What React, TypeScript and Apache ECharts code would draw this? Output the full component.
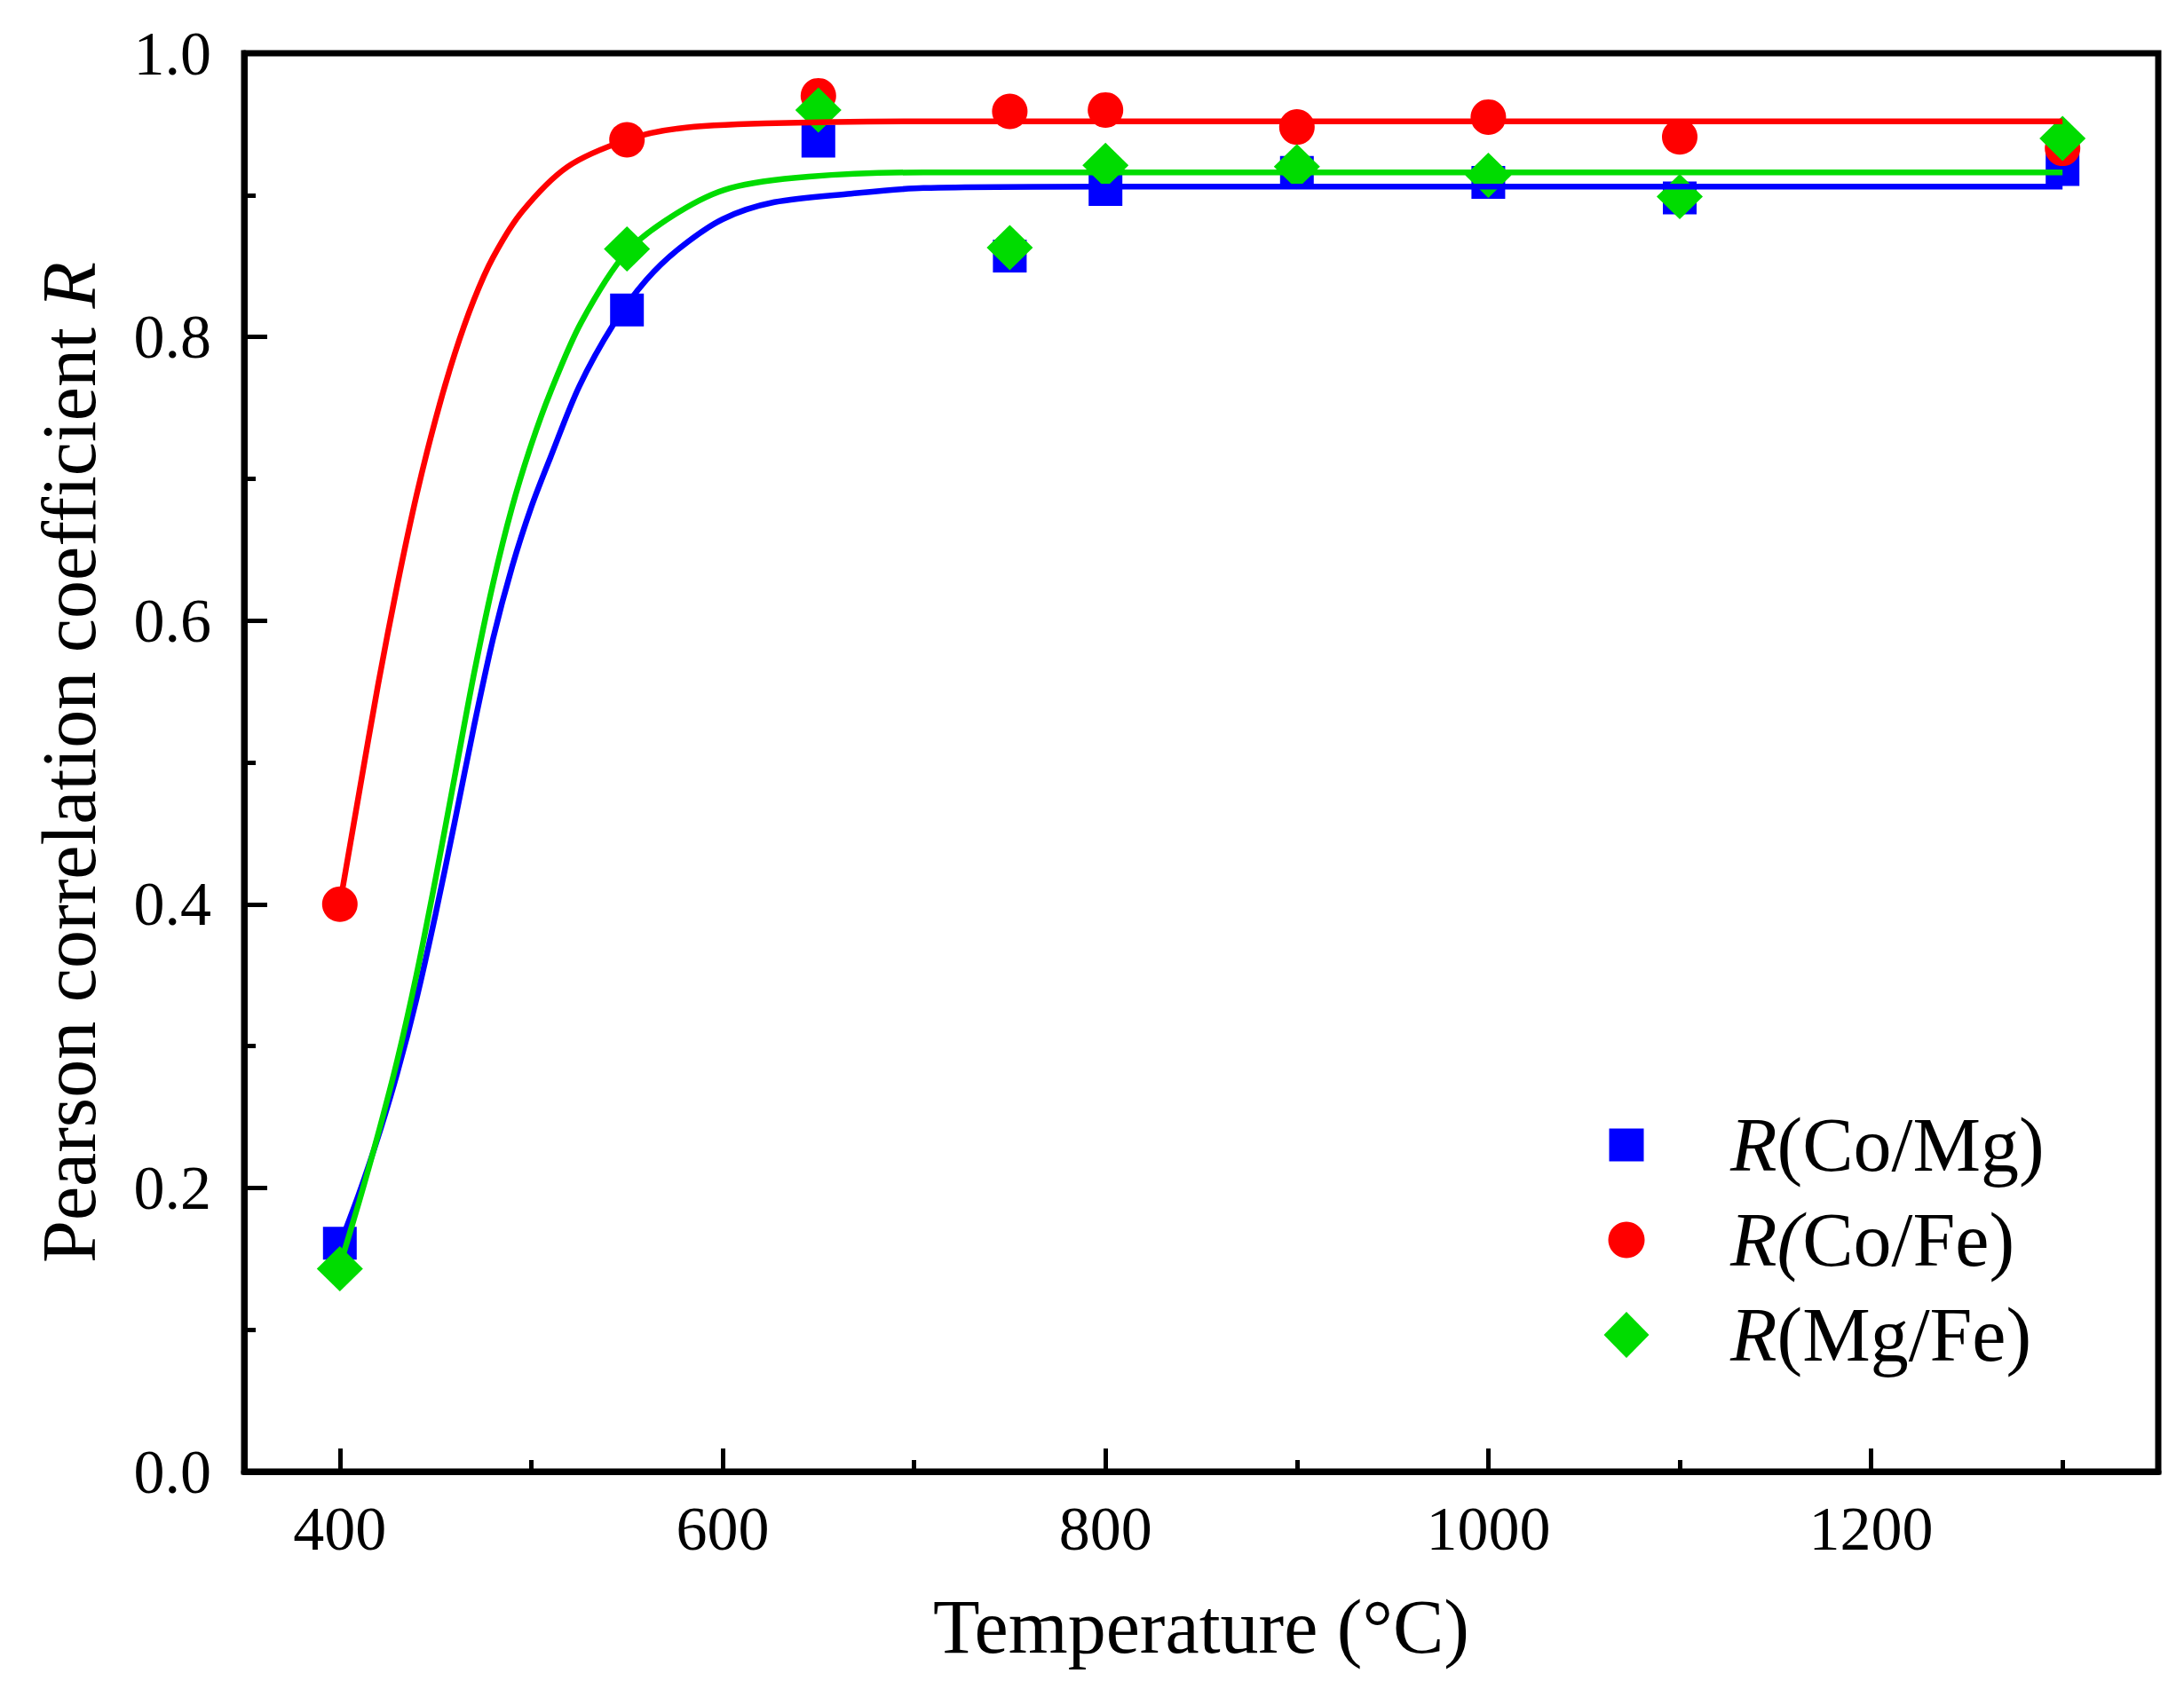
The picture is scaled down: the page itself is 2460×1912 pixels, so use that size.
import React, { useEffect, useRef } from "react";
import * as echarts from "echarts";

// Measured points
const temperatures = [400, 550, 650, 750, 800, 900, 1000, 1100, 1300];
const rCoMg = [0.161, 0.819, 0.938, 0.857, 0.904, 0.916, 0.909, 0.898, 0.918];
const rCoFe = [0.4, 0.939, 0.97, 0.959, 0.96, 0.948, 0.955, 0.941, 0.933];
const rMgFe = [0.143, 0.862, 0.96, 0.863, 0.921, 0.92, 0.914, 0.899, 0.94];

// Fitted curves
const fitCoMgX = [400, 410, 420, 430, 440, 450, 460, 470, 480, 490, 500, 510, 525, 543, 560, 577, 600, 627, 667, 705, 800, 1300];
const fitCoMgY = [0.16, 0.196, 0.236, 0.281, 0.333, 0.393, 0.458, 0.525, 0.587, 0.638, 0.68, 0.715, 0.765, 0.809, 0.84, 0.862, 0.883, 0.895, 0.901, 0.905, 0.906, 0.906];
const fitCoFeX = [400, 410, 420, 430, 440, 450, 460, 470, 480, 495, 519, 550, 577, 622, 705, 1300];
const fitCoFeY = [0.4, 0.478, 0.555, 0.625, 0.688, 0.742, 0.788, 0.826, 0.856, 0.888, 0.92, 0.939, 0.947, 0.9505, 0.952, 0.952];
const fitMgFeX = [400, 410, 420, 430, 440, 450, 460, 470, 480, 490, 500, 510, 526, 550, 577, 604, 645, 705, 1300];
const fitMgFeY = [0.145, 0.19, 0.238, 0.29, 0.35, 0.418, 0.49, 0.562, 0.626, 0.68, 0.724, 0.761, 0.81, 0.86, 0.888, 0.905, 0.913, 0.916, 0.916];

// Axis ticks
const xMajorTicks = [400, 600, 800, 1000, 1200];
const xMinorTicks = [500, 700, 900, 1100, 1300];

const seriesNames = ["R(Co/Mg)", "R(Co/Fe)", "R(Mg/Fe)"];
const legendLabels = ["{s| }{i|R}{n|(Co/Mg)}", "{s| }{i|R(}{n|Co/Fe)}", "{s| }{i|R}{n|(Mg/Fe)}"];

const BLUE = "#0000FF";
const RED = "#FF0000";
const GREEN = "#00DC00";
const FONT = "Liberation Serif";

const zip = (xs: number[], ys: number[]) => xs.map((x, i) => [x, ys[i]]);

export default function App() {
  const ref = useRef<HTMLDivElement>(null);

  useEffect(() => {
    if (!ref.current) return;
    const chart = echarts.init(ref.current, null, { renderer: "svg" });

    const richLegend = (spacer: number) => ({
      s: { width: spacer, fontSize: 86, lineHeight: 90 },
      i: { fontFamily: FONT, fontStyle: "italic", fontSize: 86, lineHeight: 90, color: "#000" },
      n: { fontFamily: FONT, fontSize: 86, lineHeight: 90, color: "#000" },
    });

    const legendDefs = [
      { name: seriesNames[0], icon: "rect", w: 39, h: 37, cx: 1832, cy: 1290 },
      { name: seriesNames[1], icon: "circle", w: 41, h: 41, cx: 1832, cy: 1397 },
      { name: seriesNames[2], icon: "diamond", w: 51, h: 52, cx: 1832, cy: 1504 },
    ];

    const legends = legendDefs.map((d, k) => ({
      show: true,
      selectedMode: false,
      orient: "vertical",
      left: d.cx - d.w / 2,
      top: d.cy - 45,
      padding: 0,
      itemWidth: d.w,
      itemHeight: d.h,
      icon: d.icon,
      itemStyle: { opacity: 1 },
      data: [d.name],
      formatter: () => legendLabels[k],
      textStyle: {
        fontFamily: FONT,
        fontSize: 86,
        lineHeight: 90,
        color: "#000",
        rich: richLegend(1949 - (d.cx - d.w / 2 + d.w + 5)),
      },
    }));

    const axisFont = { fontFamily: FONT, fontSize: 70, color: "#000" };

    const fitLine = (name: string, color: string, xs: number[], ys: number[]) => ({
      name,
      type: "line",
      showSymbol: false,
      smooth: 0.3,
      lineStyle: { color, width: 6.5 },
      z: 5,
      silent: true,
      data: zip(xs, ys),
    });

    chart.setOption({
      animation: false,
      backgroundColor: "#fff",
      grid: {
        left: 275,
        top: 60,
        width: 2156,
        height: 1598,
        show: true,
        borderColor: "#000",
        borderWidth: 7,
        backgroundColor: "transparent",
      },
      legend: legends,
      xAxis: [
        {
          type: "value",
          min: 350,
          max: 1350,
          position: "bottom",
          name: "Temperature (°C)",
          nameLocation: "middle",
          nameGap: 130,
          nameTextStyle: { fontFamily: FONT, fontSize: 86, lineHeight: 90, color: "#000" },
          axisLine: { show: true, lineStyle: { color: "#000", width: 7 } },
          axisTick: {
            show: true,
            inside: true,
            length: 26,
            customValues: xMajorTicks,
            lineStyle: { color: "#000", width: 5 },
          },
          axisLabel: {
            ...axisFont,
            margin: 29,
            lineHeight: 70,
            customValues: xMajorTicks,
            formatter: (v: number) => String(v),
          },
          splitLine: { show: false },
        },
        {
          type: "value",
          min: 350,
          max: 1350,
          position: "bottom",
          axisLine: { show: false },
          axisTick: {
            show: true,
            inside: true,
            length: 13,
            customValues: xMinorTicks,
            lineStyle: { color: "#000", width: 5 },
          },
          axisLabel: { show: false },
          splitLine: { show: false },
        },
      ],
      yAxis: {
        type: "value",
        min: 0,
        max: 1,
        interval: 0.2,
        name: "{n|Pearson correlation coefficient }{i|R}",
        nameLocation: "middle",
        nameGap: 152,
        nameTextStyle: {
          fontFamily: FONT,
          fontSize: 86,
          lineHeight: 90,
          color: "#000",
          rich: {
            n: { fontFamily: FONT, fontSize: 86, lineHeight: 90, color: "#000" },
            i: { fontFamily: FONT, fontStyle: "italic", fontSize: 86, lineHeight: 90, color: "#000" },
          },
        },
        axisLine: { show: true, lineStyle: { color: "#000", width: 7 } },
        axisTick: { show: true, inside: true, length: 26, lineStyle: { color: "#000", width: 5 } },
        minorTick: { show: true, splitNumber: 2, length: 13, lineStyle: { color: "#000", width: 5 } },
        axisLabel: { ...axisFont, margin: 37, formatter: (v: number) => v.toFixed(1) },
        splitLine: { show: false },
        minorSplitLine: { show: false },
      },
      series: [
        {
          name: seriesNames[0],
          type: "scatter",
          symbol: "rect",
          symbolSize: [38, 37],
          itemStyle: { color: BLUE, opacity: 1 },
          z: 2,
          data: zip(temperatures, rCoMg),
        },
        {
          name: seriesNames[1],
          type: "scatter",
          symbol: "circle",
          symbolSize: 40,
          itemStyle: { color: RED, opacity: 1 },
          z: 3,
          data: zip(temperatures, rCoFe),
        },
        {
          name: seriesNames[2],
          type: "scatter",
          symbol: "diamond",
          symbolSize: [52, 51],
          itemStyle: { color: GREEN, opacity: 1 },
          z: 4,
          data: zip(temperatures, rMgFe),
        },
        fitLine("fitCoMg", BLUE, fitCoMgX, fitCoMgY),
        fitLine("fitMgFe", GREEN, fitMgFeX, fitMgFeY),
        fitLine("fitCoFe", RED, fitCoFeX, fitCoFeY),
      ],
    });

    return () => chart.dispose();
  }, []);

  return (
    <div
      ref={ref}
      style={{ position: "fixed", left: 0, top: 0, width: 2460, height: 1912, background: "#fff" }}
    />
  );
}
